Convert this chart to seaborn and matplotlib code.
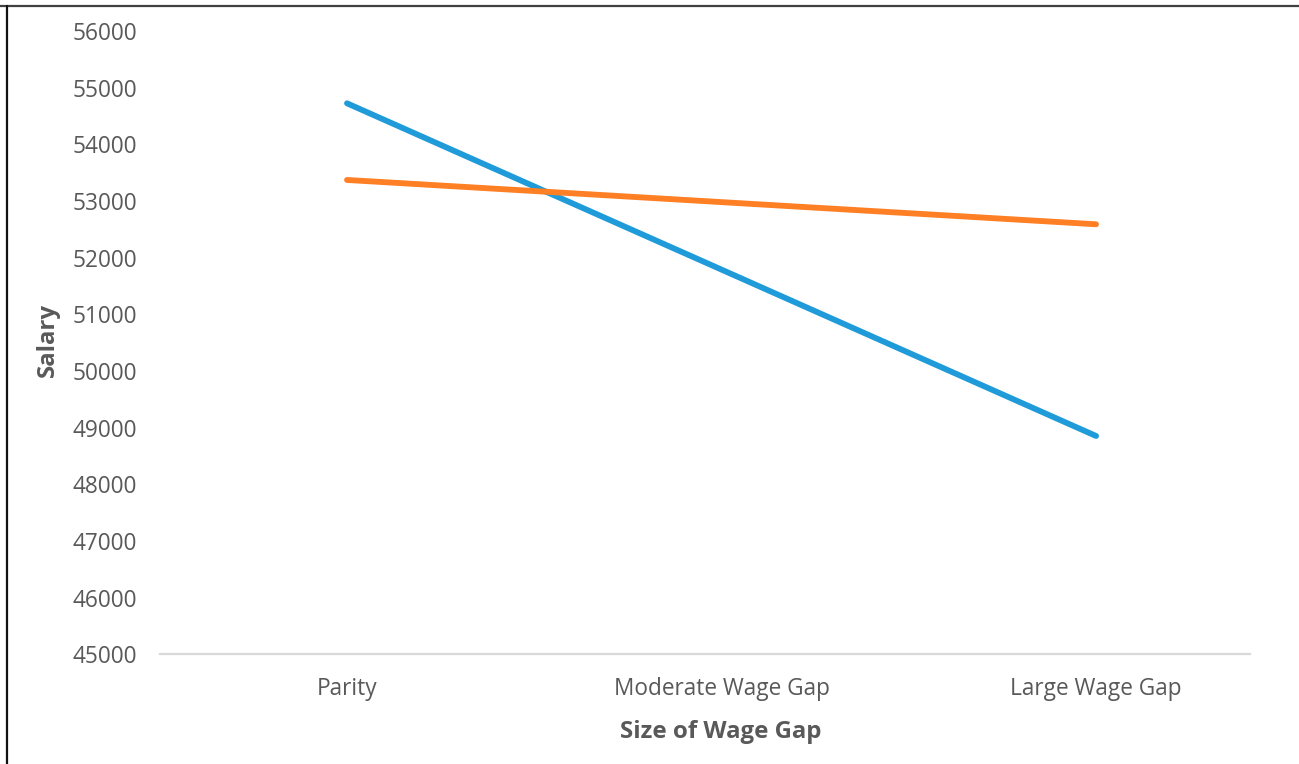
import matplotlib
matplotlib.use("Agg")
import matplotlib.pyplot as plt
from matplotlib.lines import Line2D
import pandas as pd
import seaborn as sns

# Chart data
categories = ["Parity", "Moderate Wage Gap", "Large Wage Gap"]
series_names = ["Series 1", "Series 2"]
series_1 = [54724, 51789, 48853]
series_2 = [53371, 52980, 52589]
y_ticks = list(range(45000, 56001, 1000))

colors = {"Series 1": "#1E9BD8", "Series 2": "#FF7F24"}

df = pd.DataFrame({
    "category": categories * 2,
    "pos": list(range(len(categories))) * 2,
    "salary": series_1 + series_2,
    "series": [series_names[0]] * 3 + [series_names[1]] * 3,
})

sns.set_theme(style="white")
plt.rcParams["font.family"] = ["Open Sans", "DejaVu Sans"]

fig = plt.figure(figsize=(12.99, 7.64), dpi=100)
ax = fig.add_axes([160 / 1299, 109.7 / 764, 1090 / 1299, 623.3 / 764])

sns.lineplot(data=df, x="pos", y="salary", hue="series", palette=colors,
             linewidth=4.2, legend=False, ax=ax, sort=False)
for line in ax.get_lines():
    line.set_solid_capstyle("round")

ax.set_xlim(-0.4993, 2.411)
ax.set_ylim(45000, 56000)
ax.set_xticks(range(len(categories)))
ax.set_xticklabels(categories)
ax.set_yticks(y_ticks)
ax.set_yticklabels([str(v) for v in y_ticks])

ax.tick_params(axis="both", length=0, labelsize=16.3, colors="#595959")
ax.tick_params(axis="y", pad=16.5)
ax.tick_params(axis="x", pad=16)

for side in ["top", "right", "left"]:
    ax.spines[side].set_visible(False)
ax.spines["bottom"].set_color("#D9D9D9")
ax.spines["bottom"].set_linewidth(1.6)

ax.set_xlabel("Size of Wage Gap", fontsize=17.3, fontweight="bold",
              color="#595959", labelpad=14)
ax.set_ylabel("Salary", fontsize=17.3, fontweight="bold",
              color="#595959", labelpad=9)
# Title of the category axis sits a little right of the plot centre
ax.xaxis.label.set_x(0.5147)
ax.yaxis.label.set_y(0.504)

# Frame edges along the top and left of the figure
fig.add_artist(Line2D([0, 1], [1 - 5.5 / 764, 1 - 5.5 / 764],
                      transform=fig.transFigure, color="#404040", linewidth=1.6))
fig.add_artist(Line2D([6.5 / 1299, 6.5 / 1299], [0, 1 - 5.5 / 764],
                      transform=fig.transFigure, color="#111111", linewidth=1.6))

fig.savefig("out.png", dpi=100, facecolor="white")
